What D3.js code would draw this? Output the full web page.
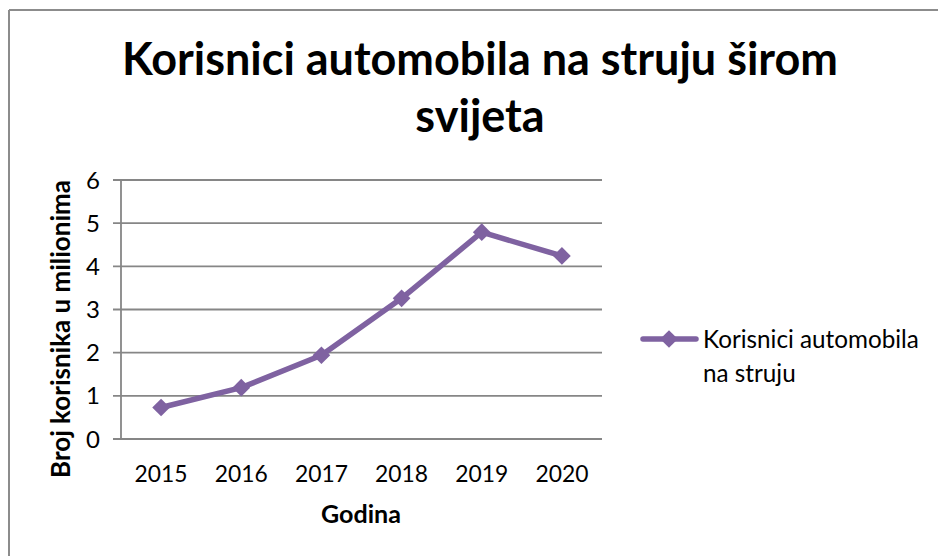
<!DOCTYPE html>
<html>
<head>
<meta charset="utf-8">
<script src="https://cdn.jsdelivr.net/npm/d3@7"></script>
<style>
  html, body { margin: 0; padding: 0; background: #fff; }
  svg { display: block; font-family: "Lato", "Open Sans", sans-serif; }
</style>
</head>
<body>
<svg id="chart" width="938" height="556"></svg>
<script>
const years = ["2015", "2016", "2017", "2018", "2019", "2020"];
const users = [0.73, 1.19, 1.94, 3.26, 4.79, 4.24];
const yTicks = [0, 1, 2, 3, 4, 5, 6];
const titleLines = ["Korisnici automobila na struju širom", "svijeta"];
const seriesName = ["Korisnici automobila", "na struju"];
const xTitle = "Godina";
const yTitle = "Broj korisnika u milionima";

const svg = d3.select("#chart");
const purple = "#7f62a1";
const gridColor = "#868686";

// outer border (top and left visible)
svg.append("line").attr("x1", 9).attr("x2", 938).attr("y1", 10).attr("y2", 10)
  .attr("stroke", "#8c8c8c").attr("stroke-width", 2);
svg.append("line").attr("x1", 9).attr("x2", 9).attr("y1", 10).attr("y2", 556)
  .attr("stroke", "#8c8c8c").attr("stroke-width", 2);

function fit(sel, target) {
  const node = sel.node();
  let fs = parseFloat(sel.attr("font-size"));
  const len = node.getComputedTextLength();
  if (len > 0) sel.attr("font-size", fs * target / len);
}

const plot = { left: 121, right: 602, top: 180, bottom: 439 };

const x = d3.scaleBand().domain(years).range([plot.left, plot.right]);
const y = d3.scaleLinear().domain([0, 6]).range([plot.bottom, plot.top]);

// gridlines
svg.append("g").selectAll("line").data(yTicks).join("line")
  .attr("x1", plot.left - 8).attr("x2", plot.right)
  .attr("y1", d => y(d)).attr("y2", d => y(d))
  .attr("stroke", gridColor).attr("stroke-width", 1.8);

// y axis line
svg.append("line").attr("x1", plot.left).attr("x2", plot.left)
  .attr("y1", plot.top).attr("y2", plot.bottom)
  .attr("stroke", gridColor).attr("stroke-width", 1.8);

// y tick labels
svg.append("g").selectAll("text").data(yTicks).join("text")
  .attr("x", 100).attr("y", d => y(d)).attr("dy", "0.36em")
  .attr("text-anchor", "end").attr("font-size", 24).attr("fill", "#000")
  .text(d => d);

// x tick labels
const xl = svg.append("g").selectAll("text").data(years).join("text")
  .attr("x", d => x(d) + x.bandwidth() / 2).attr("y", 482)
  .attr("text-anchor", "middle").attr("font-size", 23).attr("fill", "#000")
  .text(d => d);
xl.each(function() { fit(d3.select(this), 53); });

// title
const t1 = svg.append("text").attr("x", 480).attr("y", 75)
  .attr("text-anchor", "middle").attr("font-weight", "bold").attr("font-size", 40)
  .text(titleLines[0]);
fit(t1, 716);
svg.append("text").attr("x", 480).attr("y", 132)
  .attr("text-anchor", "middle").attr("font-weight", "bold").attr("font-size", t1.attr("font-size"))
  .text(titleLines[1]);

// axis titles
const xt = svg.append("text").attr("x", 361).attr("y", 523)
  .attr("text-anchor", "middle").attr("font-weight", "bold").attr("font-size", 20)
  .text(xTitle);
fit(xt, 80);
const yt = svg.append("text").attr("transform", "translate(70,329) rotate(-90)")
  .attr("text-anchor", "middle").attr("font-weight", "bold").attr("font-size", 20)
  .text(yTitle);
fit(yt, 298);

// line
const line = d3.line()
  .x((d, i) => x(years[i]) + x.bandwidth() / 2)
  .y(d => y(d));
svg.append("path").datum(users)
  .attr("d", line).attr("fill", "none")
  .attr("stroke", purple).attr("stroke-width", 5.5).attr("stroke-linejoin", "round");

const diamond = d3.symbol().type(d3.symbolDiamond2).size(200);
svg.append("g").selectAll("path").data(users).join("path")
  .attr("d", diamond)
  .attr("transform", (d, i) => `translate(${x(years[i]) + x.bandwidth() / 2},${y(d)})`)
  .attr("fill", purple);

// legend
const lg = svg.append("g");
lg.append("line").attr("x1", 643).attr("x2", 696).attr("y1", 339).attr("y2", 339)
  .attr("stroke", purple).attr("stroke-width", 5.5).attr("stroke-linecap", "round");
lg.append("path").attr("d", diamond).attr("transform", "translate(669,339)").attr("fill", purple);
const lt = lg.append("text").attr("x", 703).attr("y", 348).attr("font-size", 22).text(seriesName[0]);
fit(lt, 216);
lg.append("text").attr("x", 703).attr("y", 382).attr("font-size", lt.attr("font-size")).text(seriesName[1]);
</script>
</body>
</html>
